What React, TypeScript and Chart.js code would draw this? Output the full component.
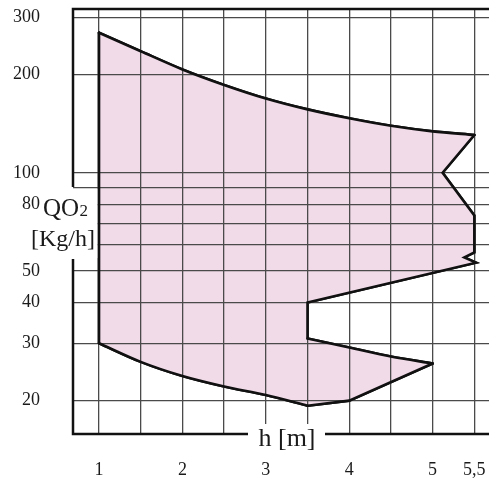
import React, { useEffect, useRef } from "react";
import { Chart, registerables } from "chart.js";

Chart.register(...registerables);

// Outline of the operating area (h [m], QO2 [Kg/h]), traced clockwise
const hValues = [1, 1.5, 2, 2.5, 3, 3.5, 4, 4.5, 5, 5.5, 5.12, 5.5, 5.5, 5.38, 5.52, 3.5, 3.5, 4, 4.5, 5, 4, 3.5, 3, 2.5, 2, 1.5, 1, 1];
const qValues = [269, 236, 207.5, 186, 169, 156.5, 147, 139.4, 134, 130.6, 100, 74, 57, 55, 53, 40, 31, 29.1, 27.3, 26, 20, 19.3, 20.8, 22.1, 23.8, 26.3, 30, 269];

// Outline pieces: [first index, last index, curved?]
const outlinePieces: [number, number, boolean][] = [
  [0, 9, true],
  [9, 16, false],
  [16, 19, true],
  [19, 21, false],
  [21, 26, true],
  [26, 27, false],
];

const xGridTicks = [1, 1.5, 2, 2.5, 3, 3.5, 4, 4.5, 5, 5.5];
const xTickLabels: Record<string, string> = { "1": "1", "2": "2", "3": "3", "4": "4", "5": "5", "5.5": "5,5" };
const yGridTicks = [20, 30, 40, 50, 60, 70, 80, 90, 100, 200, 300];
const yLabeledTicks = [20, 30, 40, 50, 80, 100, 200, 300];

const serif = "'Liberation Serif', 'Times New Roman', serif";

export default function App() {
  const ref = useRef<HTMLCanvasElement>(null);

  useEffect(() => {
    const canvas = ref.current;
    if (!canvas) return;

    const overlay = {
      id: "overlay",
      afterDraw(chart: any) {
        const ctx = chart.ctx as CanvasRenderingContext2D;
        const a = chart.chartArea;
        ctx.save();

        // white backgrounds for axis titles
        ctx.fillStyle = "#ffffff";
        ctx.fillRect(a.left - 3, 189, 97.6 - (a.left - 3), 69);
        ctx.fillRect(248, 424, 77, 24);

        // re-stroke the outline pieces over the grid
        for (let i = 1; i < chart.data.datasets.length; i++) {
          const meta = chart.getDatasetMeta(i);
          meta.dataset.draw(ctx, a);
        }

        // axis frame
        ctx.strokeStyle = "#111111";
        ctx.lineWidth = 2.5;
        ctx.lineCap = "butt";
        ctx.beginPath();
        ctx.moveTo(a.left - 1.25, a.top);
        ctx.lineTo(a.right, a.top);
        ctx.moveTo(a.left, a.top);
        ctx.lineTo(a.left, 187);
        ctx.moveTo(a.left, 259);
        ctx.lineTo(a.left, a.bottom + 1.25);
        ctx.moveTo(a.left - 1.25, a.bottom);
        ctx.lineTo(248, a.bottom);
        ctx.moveTo(325, a.bottom);
        ctx.lineTo(a.right, a.bottom);
        ctx.stroke();

        // axis titles
        ctx.fillStyle = "#1a1a1a";
        ctx.textBaseline = "alphabetic";
        ctx.textAlign = "left";
        ctx.font = `25px ${serif}`;
        ctx.fillText("QO", 43, 216);
        const w = ctx.measureText("QO").width;
        ctx.font = `17px ${serif}`;
        ctx.fillText("2", 43 + w + 0.5, 216);
        ctx.font = `24px ${serif}`;
        ctx.fillText("[Kg/h]", 31, 246);
        ctx.textAlign = "center";
        ctx.font = `26px ${serif}`;
        ctx.fillText("h [m]", 287, 446);
        ctx.restore();
      },
    };

    const points = hValues.map((h, i) => ({ x: h, y: qValues[i] }));

    const outlineSets = outlinePieces.map(([s, e, curved]) => ({
      data: points.slice(s, e + 1),
      showLine: true,
      fill: false,
      borderColor: "#111111",
      borderWidth: 2.6,
      pointRadius: 0,
      tension: curved ? 0.3 : 0,
      borderCapStyle: "round",
      borderJoinStyle: "miter",
    } as any));

    const chart = new Chart(canvas, {
      type: "scatter",
      data: {
        datasets: [
          {
            data: points,
            showLine: true,
            fill: "shape",
            backgroundColor: "#f2dbe9",
            borderColor: "rgba(0,0,0,0)",
            borderWidth: 0,
            pointRadius: 0,
            tension: 0,
          } as any,
          ...outlineSets,
        ],
      },
      options: {
        responsive: false,
        animation: false,
        events: [],
        layout: { padding: { top: 9, left: 0, right: 0, bottom: 0 } },
        plugins: { legend: { display: false }, tooltip: { enabled: false } },
        scales: {
          x: {
            type: "linear",
            min: 0.688,
            max: 5.676,
            afterBuildTicks: (s: any) => {
              s.ticks = xGridTicks.map((v) => ({ value: v }));
            },
            afterFit: (s: any) => {
              s.height = 47;
            },
            border: { display: false },
            grid: {
              z: 1,
              color: "#4a4a4a",
              lineWidth: 1.3,
              drawTicks: true,
              tickLength: 27,
              tickColor: "rgba(0,0,0,0)",
            },
            ticks: {
              padding: 0,
              autoSkip: false,
              maxRotation: 0,
              color: "#1a1a1a",
              font: { family: serif, size: 18, lineHeight: 1 },
              callback: (v: any) => xTickLabels[String(v)] ?? "",
            },
          },
          y: {
            type: "logarithmic",
            min: 15.8,
            max: 318,
            afterBuildTicks: (s: any) => {
              s.ticks = yGridTicks.map((v) => ({ value: v }));
            },
            afterFit: (s: any) => {
              s.width = 73;
            },
            border: { display: false },
            grid: {
              z: 1,
              color: "#4a4a4a",
              lineWidth: 1.3,
              drawTicks: true,
              tickLength: 33,
              tickColor: "rgba(0,0,0,0)",
            },
            ticks: {
              padding: 0,
              autoSkip: false,
              color: "#1a1a1a",
              font: { family: serif, size: 18, lineHeight: 1 },
              callback: (v: any) => (yLabeledTicks.includes(Number(v)) ? String(v) : ""),
            },
          },
        },
      } as any,
      plugins: [overlay],
    });

    return () => chart.destroy();
  }, []);

  return (
    <div style={{ position: "absolute", left: 0, top: 0, width: 489, height: 481, background: "#fff" }}>
      <canvas ref={ref} width={489} height={481} style={{ display: "block" }} />
    </div>
  );
}
